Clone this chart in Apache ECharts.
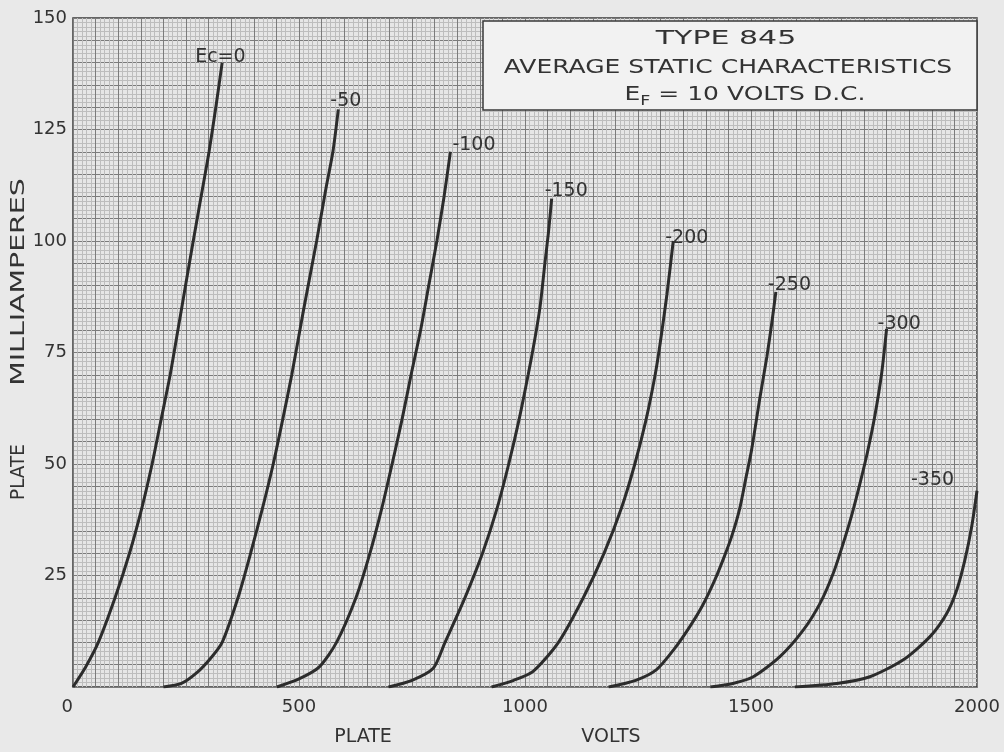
<!DOCTYPE html>
<html><head><meta charset="utf-8">
<script src="https://cdn.jsdelivr.net/npm/echarts@6/dist/echarts.min.js"></script>
<style>html,body{margin:0;padding:0;background:#e9e9e9;}#c{width:1004px;height:752px;}</style>
</head><body><div id="c"></div>
<script>
// ---- data (plate volts, plate milliamperes) ----
const curveNames = ['Ec=0', '-50', '-100', '-150', '-200', '-250', '-300', '-350'];
const ec0 = [[0,0],[28,4.5],[56,10],[93,20],[125,30],[152,40],[175,50],[195,60],[215,70],[232,80],[249,90],[266,100],[287,112],[301,120],[316,130],[330,140]];
const ec50 = [[200,0],[240,0.8],[274,3.2],[305,6.5],[330,10],[365,20],[393,30],[419,40],[443,50],[464,60],[484,70],[510,84.5],[539,100],[560,112],[575,120],[587,129.5]];
const ec100 = [[451,0],[500,1.8],[545,4.5],[583,10],[626,20],[657,30],[683,40],[706,50],[728,60],[748,70],[769,80],[787,90],[805,100],[821,110],[835,120]];
const ec150 = [[698,0],[750,1.5],[797,4.2],[823,10],[867,20],[906,30],[938,40],[964,50],[987,60],[1007,70],[1020,77],[1033,85],[1044,95],[1052,102],[1059,109.5]];
const ec200 = [[926,0],[975,1.5],[1018,3.5],[1074,10],[1129,20],[1175,30],[1213,40],[1243,50],[1268,60],[1288,70],[1299,77],[1314,88],[1328,100]];
const ec250 = [[1185,0],[1245,1.5],[1291,3.9],[1330,8.5],[1365,13.6],[1394,18.5],[1420,24],[1440,29],[1458,34],[1475,40],[1489,47],[1501,53],[1520,65],[1535,74],[1546,81.6],[1555,88.6]];
const ec300 = [[1410,0],[1460,0.8],[1505,2.3],[1564,6.8],[1616,12.8],[1653,18.8],[1682,25.5],[1704,32.2],[1723,38.6],[1741,45.6],[1758,52.8],[1774,60.8],[1789,70.3],[1800,80.3]];
const ec350 = [[1597,0],[1690,0.8],[1763,2.3],[1837,6.1],[1896,11.3],[1933,16.5],[1955,21.7],[1973,28.4],[1988,35.8],[2000,44]];
const curves = [ec0, ec50, ec100, ec150, ec200, ec250, ec300, ec350];
const xTickLabels = [0, 500, 1000, 1500, 2000];
const yTickLabels = [25, 50, 75, 100, 125, 150];
const titleLines = ['TYPE 845', 'AVERAGE STATIC CHARACTERISTICS', 'E', 'F', ' = 10 VOLTS D.C.'];

// ---- styles ----
const labelOffsets = [[-27,-6],[-8,-8],[2,-7],[-7,-8],[-8,-3],[-8,-7],[-9,-5],[-66,-11]];
const FONT = 'DejaVu Sans';
const INK = '#333';

const chart = echarts.init(document.getElementById('c'), null, {renderer: 'canvas'});

function txt(text, x, y, size, opts) {
  opts = opts || {};
  return {
    type: 'text', x: x, y: y, rotation: opts.rotation || 0,
    scaleX: opts.scaleX || 1, scaleY: 1, z: 100,
    style: {
      text: text, fontFamily: FONT, fontSize: size, fill: INK,
      align: 'center', verticalAlign: 'middle', textAlign: 'center', textVerticalAlign: 'middle',
      rich: opts.rich
    }
  };
}

const option = {
  backgroundColor: '#e9e9e9',
  animation: false,
  grid: { left: 73, right: 27, top: 18, bottom: 65, show: true, backgroundColor: '#e6e6e6', borderColor: '#3a3a3a', borderWidth: 1.5 },
  xAxis: {
    type: 'value', min: 0, max: 2000, interval: 50,
    axisLine: { show: false }, axisTick: { show: false },
    splitLine: { show: true, lineStyle: { color: '#7b7b7b', width: 1 } },
    minorTick: { show: false, splitNumber: 5 },
    minorSplitLine: { show: true, lineStyle: { color: '#bdbdbd', width: 1 } },
    axisLabel: {
      formatter: v => xTickLabels.includes(v) ? String(v) : '',
      fontFamily: FONT, fontSize: 18, color: INK, margin: 11, alignMinLabel: 'right'
    }
  },
  yAxis: {
    type: 'value', min: 0, max: 150, interval: 5,
    axisLine: { show: false }, axisTick: { show: false },
    splitLine: { show: true, lineStyle: { color: '#7b7b7b', width: 1 } },
    minorTick: { show: false, splitNumber: 5 },
    minorSplitLine: { show: true, lineStyle: { color: '#bdbdbd', width: 1 } },
    axisLabel: {
      formatter: v => yTickLabels.includes(v) ? String(v) : '',
      fontFamily: FONT, fontSize: 18, color: INK, margin: 6, padding: [4, 0, 0, 0]
    }
  },
  series: curves.map((c, i) => ({
    type: 'line', data: c, symbol: 'none', smooth: 0.25,
    lineStyle: { color: '#2c2c2c', width: 3 }, z: 5,
    endLabel: {
      show: true, formatter: curveNames[i], distance: 0, offset: labelOffsets[i],
      fontFamily: FONT, fontSize: 19, color: INK
    }
  })),
  graphic: [
    { type: 'rect', z: 90, shape: { x: 483, y: 21, width: 494, height: 89 },
      style: { fill: '#f2f2f2', stroke: '#3a3a3a', lineWidth: 1.5 } },
    txt(titleLines[0], 726, 39, 20, { scaleX: 1.5 }),
    txt(titleLines[1], 728, 68, 20, { scaleX: 1.25 }),
    txt('{a|' + titleLines[2] + '}{b|' + titleLines[3] + '}{a|' + titleLines[4] + '}', 745, 95, 20, {
      scaleX: 1.25,
      rich: {
        a: { fontFamily: FONT, fontSize: 20, color: INK, lineHeight: 26 },
        b: { fontFamily: FONT, fontSize: 14, color: INK, lineHeight: 26, verticalAlign: 'bottom', padding: [6, 0, 0, 0] }
      }
    }),
    txt('PLATE', 19, 472, 20, { rotation: Math.PI / 2, scaleX: 0.92 }),
    txt('MILLIAMPERES', 19, 282, 20, { rotation: Math.PI / 2, scaleX: 1.42 }),
    txt('PLATE', 363, 737, 19),
    txt('VOLTS', 611, 737, 19)
  ]
};
chart.setOption(option);
</script></body></html>
